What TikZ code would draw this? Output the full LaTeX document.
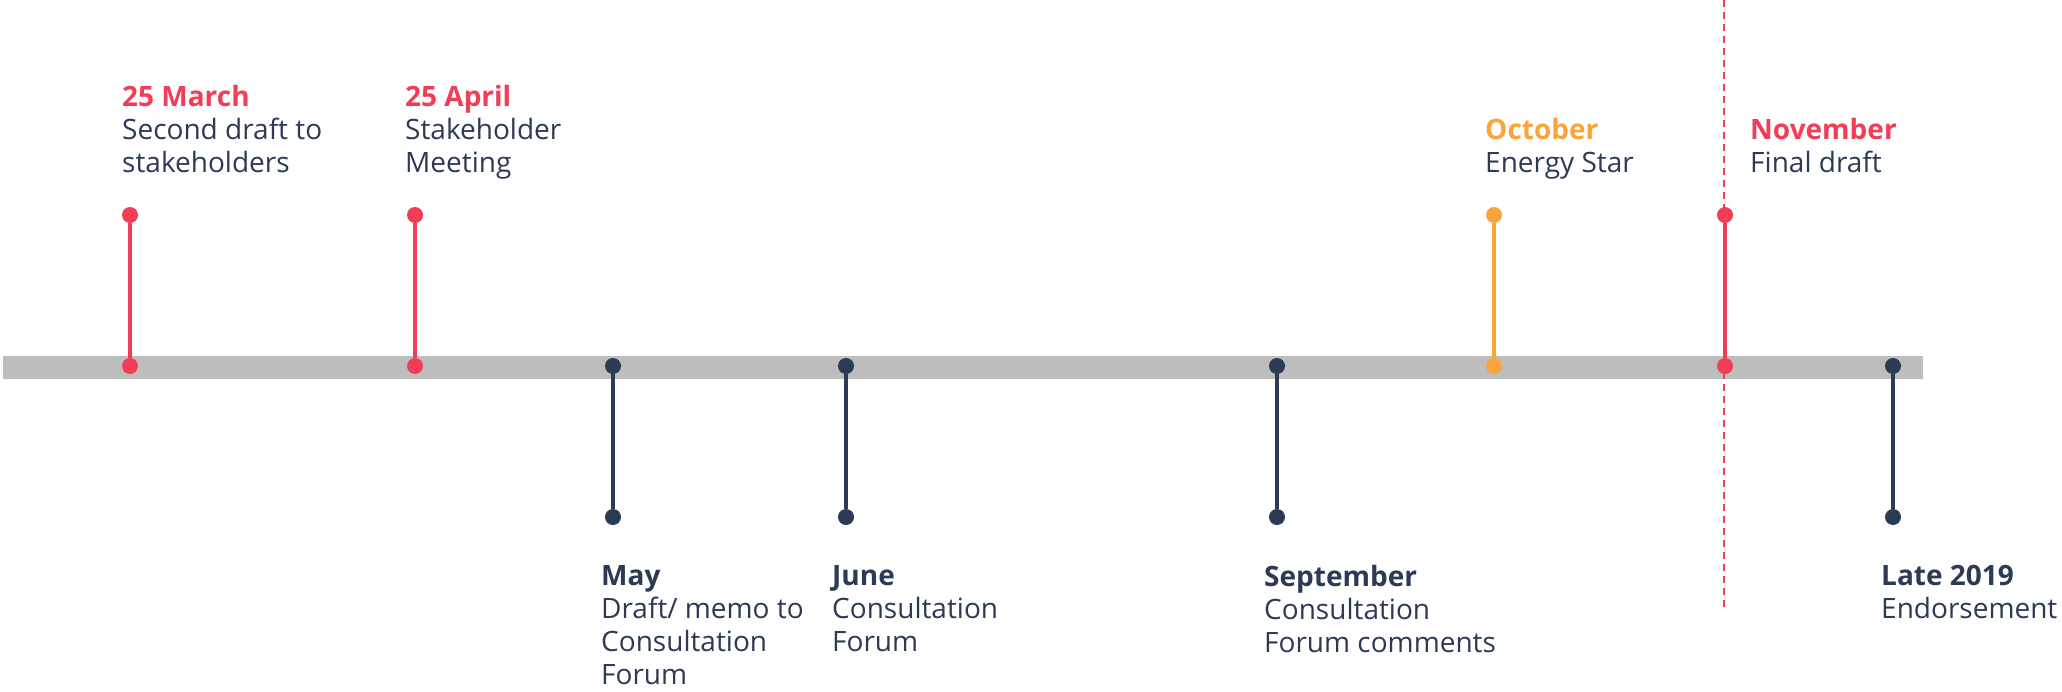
\documentclass[tikz,border=0pt]{standalone}
\usepackage{fontspec}
\setmainfont{Open Sans}
\usetikzlibrary{shapes.geometric}
\definecolor{cred}{HTML}{F23D57}
\definecolor{corange}{HTML}{FBA43B}
\definecolor{cnavy}{HTML}{2B3A55}
\definecolor{cgray}{HTML}{BDBDBD}
\begin{document}
\begin{tikzpicture}[x=1pt,y=-1pt,
  dot/.style={circle,inner sep=0pt,minimum size=16pt,draw=none},
  stem/.style={line width=3.4pt},
  lbl/.style={anchor=north west,inner sep=0pt,align=left,text=cnavy,
    font=\fontsize{28}{33}\selectfont}]
\useasboundingbox (0,0) rectangle (2062,691);
% bar
\fill[cgray] (3,356) rectangle (1923,379);
% dashed divider
\coordinate (dtop) at (1724,0);
\coordinate (dbot) at (1724,607);
\draw[cred,line width=1.4pt,dash pattern=on 7pt off 5pt] (dtop) -- (dbot);
% top events
\node[dot,fill=cred] (a1) at (130,215) {};
\node[dot,fill=cred] (a2) at (130,366) {};
\node[dot,fill=cred] (b1) at (415,215) {};
\node[dot,fill=cred] (b2) at (415,366) {};
\node[dot,fill=corange] (g1) at (1494,215) {};
\node[dot,fill=corange] (g2) at (1494,366) {};
\node[dot,fill=cred] (h1) at (1725,215) {};
\node[dot,fill=cred] (h2) at (1725,366) {};
% bottom events
\node[dot,fill=cnavy] (c1) at (613,366) {};
\node[dot,fill=cnavy] (c2) at (613,517) {};
\node[dot,fill=cnavy] (d1) at (846,366) {};
\node[dot,fill=cnavy] (d2) at (846,517) {};
\node[dot,fill=cnavy] (e1) at (1277,366) {};
\node[dot,fill=cnavy] (e2) at (1277,517) {};
\node[dot,fill=cnavy] (f1) at (1893,366) {};
\node[dot,fill=cnavy] (f2) at (1893,517) {};
% stems
\draw[stem,cred] (a1) -- (a2);
\draw[stem,cred] (b1) -- (b2);
\draw[stem,corange] (g1) -- (g2);
\draw[stem,cred] (h1) -- (h2);
\draw[stem,cnavy] (c1) -- (c2);
\draw[stem,cnavy] (d1) -- (d2);
\draw[stem,cnavy] (e1) -- (e2);
\draw[stem,cnavy] (f1) -- (f2);
% labels
\node[lbl] (ta) at (122,85) {{\bfseries\color{cred}25 March}\\Second draft to\\stakeholders};
\node[lbl] (tb) at (405,85) {{\bfseries\color{cred}25 April}\\Stakeholder\\Meeting};
\node[lbl] (tg) at (1485,118) {{\bfseries\color{corange}October}\\Energy Star};
\node[lbl] (th) at (1750,118) {{\bfseries\color{cred}November}\\Final draft};
\node[lbl] (tc) at (601,565) {{\bfseries May}\\Draft/ memo to\\Consultation\\Forum};
\node[lbl] (td) at (832,565) {{\bfseries June}\\Consultation\\Forum};
\node[lbl] (te) at (1264,565) {{\bfseries September}\\Consultation\\Forum comments};
\node[lbl] (tf) at (1881,565) {{\bfseries Late 2019}\\Endorsement};
\end{tikzpicture}
\end{document}
